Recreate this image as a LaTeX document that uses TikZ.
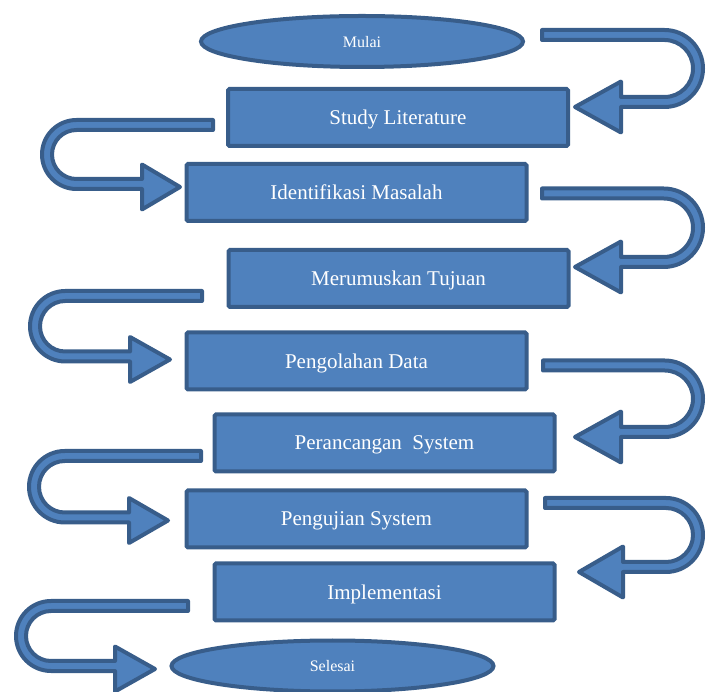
\documentclass[tikz,border=0pt]{standalone}
\usepackage{fontspec}
\setmainfont{Liberation Serif}
\usetikzlibrary{shapes.geometric}

\definecolor{boxfill}{HTML}{4F81BD}
\definecolor{boxline}{HTML}{385D8A}

\tikzset{
  stepbox/.style={draw=boxline, fill=boxfill, line width=4pt, rounded corners=1.5pt,
    minimum width=340pt, minimum height=57pt, inner sep=0pt, text=white, text depth=0pt,
    font=\fontsize{21}{25}\selectfont},
  endbox/.style={ellipse, draw=boxline, fill=boxfill, line width=4pt,
    minimum width=322pt, minimum height=51pt, inner sep=0pt, text=white, text depth=0pt,
    font=\fontsize{16}{19}\selectfont},
  uturn/.style={draw=boxline, fill=boxfill, line width=4pt, line join=round}
}

% U-turn block arrow on the right: start x, top y, bottom y, head base x, tip x
\newcommand{\uturnR}[5]{%
  \pgfmathsetmacro\rad{(#2-#3)/2}
  \pgfmathsetmacro\cx{698-\rad}
  \pgfmathsetmacro\ro{\rad+5}\pgfmathsetmacro\ri{\rad-5}
  \pgfmathsetmacro\hy{#3-5}
  \filldraw[uturn] (#1,#2+5) -- (\cx,#2+5) arc[start angle=90, end angle=-90, radius=\ro pt]
    -- (#4,#3-5) -- (#4,\hy-25.5) -- (#5,\hy) -- (#4,\hy+25.5) -- (#4,#3+5)
    -- (\cx,#3+5) arc[start angle=-90, end angle=90, radius=\ri pt] -- (#1,#2-5) -- cycle;
}

% U-turn block arrow on the left: end x, top y, bottom y, head base x, tip x, outer left x
\newcommand{\uturnL}[6]{%
  \pgfmathsetmacro\rad{(#2-#3)/2}
  \pgfmathsetmacro\cx{#6+7+\rad}
  \pgfmathsetmacro\ro{\rad+5}\pgfmathsetmacro\ri{\rad-5}
  \pgfmathsetmacro\hy{#3-3}
  \filldraw[uturn] (#1,#2+5) -- (\cx,#2+5) arc[start angle=90, end angle=270, radius=\ro pt]
    -- (#4,#3-5) -- (#4,\hy-22.5) -- (#5,\hy) -- (#4,\hy+22.5) -- (#4,#3+5)
    -- (\cx,#3+5) arc[start angle=270, end angle=90, radius=\ri pt] -- (#1,#2-5) -- cycle;
}

\begin{document}
\begin{tikzpicture}[x=1pt, y=1pt]
    \useasboundingbox (0,0) rectangle (707,691);

    % Start and end
    \node[endbox] (mulai) at (362,649.5) {Mulai};
    \node[endbox] (selesai) at (332.5,25) {Selesai};

    % Steps
    \node[stepbox] (study) at (398,573.5) {Study Literature};
    \node[stepbox] (identifikasi) at (356.5,498.5) {Identifikasi Masalah};
    \node[stepbox] (tujuan) at (398.5,412.5) {Merumuskan Tujuan};
    \node[stepbox] (olahdata) at (356.5,330) {Pengolahan Data};
    \node[stepbox] (rancang) at (384.5,248) {Perancangan\ \ System};
    \node[stepbox] (uji) at (356.5,172) {Pengujian System};
    \node[stepbox] (implementasi) at (384.5,99) {Implementasi};

    % Right turns
    \uturnR{542}{656}{589}{621}{575}     % mulai -> study
    \uturnR{542}{497.5}{429}{621}{575}   % identifikasi -> tujuan
    \uturnR{543}{325.5}{259}{621}{575}   % olahdata -> rancang
    \uturnR{545}{188}{124}{623}{579}     % uji -> implementasi

    % Left turns
    \uturnL{213}{566}{507}{142}{180}{40}     % study -> identifikasi
    \uturnL{202}{395}{334.5}{130}{170}{28}   % tujuan -> olahdata
    \uturnL{201}{235}{173.5}{129}{168}{27}   % rancang -> uji
    \uturnL{188}{85}{25}{115}{155}{14}       % implementasi -> selesai
\end{tikzpicture}
\end{document}
